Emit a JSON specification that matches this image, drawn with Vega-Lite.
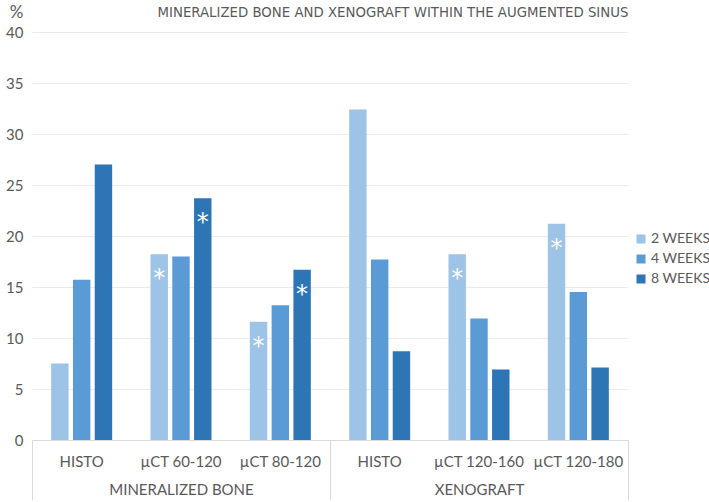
{
  "$schema": "https://vega.github.io/schema/vega-lite/v6.json",
  "autosize": {"type": "none"},
  "width": 596,
  "height": 408,
  "padding": {"left": 32, "top": 32, "right": 81, "bottom": 62},
  "background": "white",
  "title": {
    "text": "MINERALIZED BONE AND XENOGRAFT WITHIN THE AUGMENTED SINUS",
    "fontSize": 14.8,
    "font": "'Liberation Sans Narrow', 'DejaVu Sans Condensed', Lato",
    "fontWeight": "normal",
    "color": "#595959",
    "anchor": "middle",
    "dx": 63,
    "offset": -17
  },
  "config": {"view": {"stroke": null}, "font": "Lato"},
  "data": {
    "values": [
      {"key": "MB|HISTO", "group": "MINERALIZED BONE", "week": "2 WEEKS", "value": 7.5, "sig": ""},
      {"key": "MB|HISTO", "group": "MINERALIZED BONE", "week": "4 WEEKS", "value": 15.7, "sig": ""},
      {"key": "MB|HISTO", "group": "MINERALIZED BONE", "week": "8 WEEKS", "value": 27.0, "sig": ""},
      {"key": "MB|µCT 60-120", "group": "MINERALIZED BONE", "week": "2 WEEKS", "value": 18.2, "sig": "*"},
      {"key": "MB|µCT 60-120", "group": "MINERALIZED BONE", "week": "4 WEEKS", "value": 18.0, "sig": ""},
      {"key": "MB|µCT 60-120", "group": "MINERALIZED BONE", "week": "8 WEEKS", "value": 23.7, "sig": "*"},
      {"key": "MB|µCT 80-120", "group": "MINERALIZED BONE", "week": "2 WEEKS", "value": 11.6, "sig": "*"},
      {"key": "MB|µCT 80-120", "group": "MINERALIZED BONE", "week": "4 WEEKS", "value": 13.2, "sig": ""},
      {"key": "MB|µCT 80-120", "group": "MINERALIZED BONE", "week": "8 WEEKS", "value": 16.7, "sig": "*"},
      {"key": "XG|HISTO", "group": "XENOGRAFT", "week": "2 WEEKS", "value": 32.4, "sig": ""},
      {"key": "XG|HISTO", "group": "XENOGRAFT", "week": "4 WEEKS", "value": 17.7, "sig": ""},
      {"key": "XG|HISTO", "group": "XENOGRAFT", "week": "8 WEEKS", "value": 8.7, "sig": ""},
      {"key": "XG|µCT 120-160", "group": "XENOGRAFT", "week": "2 WEEKS", "value": 18.2, "sig": "*"},
      {"key": "XG|µCT 120-160", "group": "XENOGRAFT", "week": "4 WEEKS", "value": 11.9, "sig": ""},
      {"key": "XG|µCT 120-160", "group": "XENOGRAFT", "week": "8 WEEKS", "value": 6.9, "sig": ""},
      {"key": "XG|µCT 120-180", "group": "XENOGRAFT", "week": "2 WEEKS", "value": 21.2, "sig": "*"},
      {"key": "XG|µCT 120-180", "group": "XENOGRAFT", "week": "4 WEEKS", "value": 14.5, "sig": ""},
      {"key": "XG|µCT 120-180", "group": "XENOGRAFT", "week": "8 WEEKS", "value": 7.1, "sig": ""}
    ]
  },
  "layer": [
    {
      "encoding": {
        "x": {
          "field": "key",
          "type": "nominal",
          "sort": null,
          "scale": {"paddingInner": 0.386, "paddingOuter": 0.193},
          "axis": {
            "orient": "bottom",
            "title": null,
            "labelExpr": "split(datum.label, '|')[1]",
            "labelAngle": 0,
            "ticks": false,
            "domainColor": "#D9D9D9",
            "labelPadding": 14,
            "labelFontSize": 15,
            "labelColor": "#595959",
            "labelFont": "Lato"
          }
        },
        "xOffset": {
          "field": "week",
          "type": "nominal",
          "sort": null,
          "scale": {"paddingInner": 0.2, "paddingOuter": 0}
        },
        "y": {
          "field": "value",
          "type": "quantitative",
          "scale": {"domain": [0, 40], "nice": false},
          "axis": {
            "title": "%",
            "titleAngle": 0,
            "titleX": -16,
            "titleY": -20,
            "titleAlign": "center",
            "titleBaseline": "middle",
            "titleFontSize": 17,
            "titleFontWeight": "normal",
            "titleColor": "#595959",
            "titleFont": "Lato",
            "values": [0, 5, 10, 15, 20, 25, 30, 35, 40],
            "ticks": false,
            "domain": false,
            "labelPadding": 9,
            "labelFontSize": 15,
            "labelColor": "#595959",
            "labelFont": "Lato",
            "gridColor": "#EBEBEB"
          }
        }
      },
      "layer": [
        {
          "mark": {"type": "bar"},
          "encoding": {
            "color": {
              "field": "week",
              "type": "nominal",
              "scale": {
                "domain": ["2 WEEKS", "4 WEEKS", "8 WEEKS"],
                "range": ["#9DC3E6", "#5B9BD5", "#2E75B6"]
              },
              "legend": {
                "title": null,
                "orient": "none",
                "legendX": 602,
                "legendY": 200,
                "padding": 0,
                "symbolType": "square",
                "symbolSize": 81,
                "symbolStrokeWidth": 0,
                "labelFontSize": 14,
                "labelColor": "#595959",
                "labelFont": "Lato",
                "rowPadding": 6,
                "labelOffset": 3
              }
            }
          }
        },
        {
          "mark": {"type": "text", "color": "white", "fontSize": 24, "baseline": "middle", "dy": 25, "font": "DejaVu Sans"},
          "encoding": {"text": {"field": "sig"}}
        }
      ]
    },
    {
      "mark": {"type": "text", "opacity": 0},
      "encoding": {
        "x": {
          "field": "group",
          "type": "nominal",
          "sort": null,
          "scale": {"paddingInner": 0, "paddingOuter": 0},
          "axis": {
            "orient": "bottom",
            "title": null,
            "domain": false,
            "ticks": true,
            "tickBand": "extent",
            "tickColor": "#D9D9D9",
            "tickSize": 60,
            "labelPadding": -18,
            "labelAngle": 0,
            "labelFontSize": 15,
            "labelColor": "#595959",
            "labelFont": "Lato"
          }
        },
        "text": {"value": ""}
      }
    }
  ],
  "resolve": {"scale": {"x": "independent"}}
}
